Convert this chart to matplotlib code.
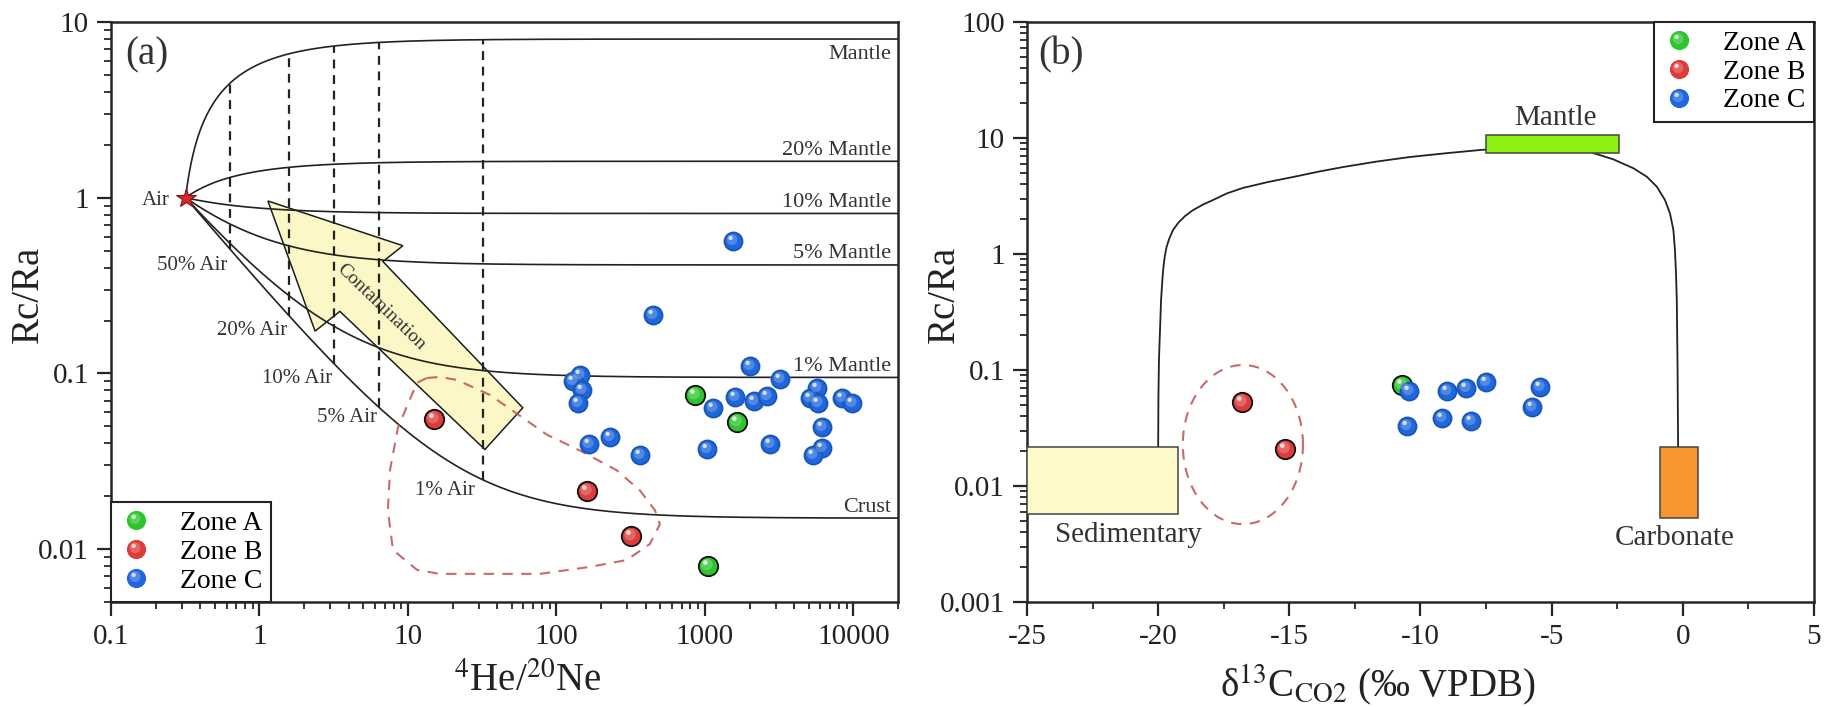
import numpy as np
import matplotlib
matplotlib.use('Agg')
import matplotlib.pyplot as plt
from matplotlib.lines import Line2D
from matplotlib.markers import MarkerStyle
from matplotlib.patches import Polygon, Rectangle
from matplotlib.transforms import Affine2D
from matplotlib.legend_handler import HandlerTuple
from matplotlib.ticker import FixedLocator, FixedFormatter, NullFormatter, LogLocator, MultipleLocator

plt.rcParams['font.family'] = ['Liberation Serif', 'DejaVu Serif']
plt.rcParams['mathtext.fontset'] = 'stix'

# ---------------- data: panel (a) 4He/20Ne vs Rc/Ra ----------------
zone_a_he_ne = [857, 1642, 1048]
zone_a_rc_ra = [0.0755, 0.0531, 0.0080]
zone_b_he_ne = [15.0, 160, 318]
zone_b_rc_ra = [0.0552, 0.0213, 0.0119]
zone_c_he_ne = [144, 129, 148, 140, 166, 229, 365, 1030, 1132, 2010, 1592, 2138,
                2616, 3200, 2740, 5680, 5100, 5770, 6140, 6140, 5340, 8370, 9770,
                1545, 447]
zone_c_rc_ra = [0.098, 0.0906, 0.0806, 0.068, 0.0394, 0.0437, 0.0345, 0.0369, 0.0637,
                0.110, 0.0735, 0.0698, 0.0745, 0.093, 0.0394, 0.0827, 0.0726, 0.068,
                0.0497, 0.0378, 0.0345, 0.0726, 0.068, 0.569, 0.214]

# mixing model end members
air_he_ne = 0.318
mantle_fractions = [1.0, 0.2, 0.1, 0.05, 0.01, 0.0]
mantle_labels = ['Mantle', '20% Mantle', '10% Mantle', '5% Mantle', '1% Mantle', 'Crust']
r_mantle = 8.0
r_crust = 0.015
air_fractions = [0.5, 0.2, 0.1, 0.05, 0.01]
air_labels = ['50% Air', '20% Air', '10% Air', '5% Air', '1% Air']
air_label_x = [0.35, 0.89, 1.79, 3.88, 17.7]
air_label_y = [0.41, 0.176, 0.094, 0.056, 0.0216]

# contamination arrow outline and zone B outline
arrow_x = [1.14, 9.25, 6.79, 59.4, 33.0, 3.48, 2.37]
arrow_y = [0.958, 0.533, 0.433, 0.0637, 0.0369, 0.2255, 0.174]
outline_x = [13.4, 11.5, 8.56, 7.57, 7.33, 7.93, 11.5, 16.4, 77.4, 168, 298, 426, 498,
             461, 365, 255, 144, 86.3, 56.8, 35.6, 21.4, 16.4, 13.4]
outline_y = [0.0942, 0.0883, 0.0491, 0.0281, 0.01664, 0.00989, 0.00762, 0.00723,
             0.00723, 0.00792, 0.00867, 0.01069, 0.01387, 0.01664, 0.0216, 0.0281,
             0.0364, 0.0448, 0.0574, 0.0755, 0.0918, 0.0954, 0.0942]

a_xticks = [0.1, 1, 10, 100, 1000, 10000]
a_xticklabels = ['0.1', '1', '10', '100', '1000', '10000']
a_yticks = [0.01, 0.1, 1, 10]
a_yticklabels = ['0.01', '0.1', '1', '10']

# ---------------- data: panel (b) d13C vs Rc/Ra ----------------
b_zone_a_d13c = [-10.70]
b_zone_a_rc_ra = [0.0743]
b_zone_b_d13c = [-16.80, -15.16]
b_zone_b_rc_ra = [0.053, 0.0208]
b_zone_c_d13c = [-10.44, -10.51, -8.99, -8.26, -7.50, -9.18, -8.07, -5.44, -5.75]
b_zone_c_rc_ra = [0.066, 0.0329, 0.066, 0.070, 0.0788, 0.0386, 0.0363, 0.0713, 0.048]

sed_curve_x = [-20.0, -19.99, -19.97, -19.93, -19.89, -19.84, -19.80, -19.75, -19.68,
               -19.58, -19.44, -19.24, -18.98, -18.67, -18.30, -17.91, -17.38, -16.77,
               -15.80, -14.86, -13.90, -12.95, -11.70, -10.40, -9.00, -7.73, -7.50]
sed_curve_y = [0.0217, 0.06, 0.122, 0.22, 0.40, 0.60, 0.77, 0.95, 1.15, 1.35, 1.60,
               1.85, 2.12, 2.39, 2.66, 2.92, 3.33, 3.71, 4.18, 4.61, 5.12, 5.62, 6.25,
               6.86, 7.40, 7.88, 7.95]
carb_curve_x = [-3.42, -2.65, -1.88, -1.37, -0.99, -0.68, -0.49, -0.36, -0.30, -0.26,
                -0.23, -0.20, -0.18]
carb_curve_y = [7.43, 6.55, 5.48, 4.63, 3.80, 2.92, 2.24, 1.61, 1.08, 0.68, 0.40, 0.10,
                0.0217]

# source boxes: (x0, x1, y0, y1)
mantle_box = [-7.5, -2.43, 7.43, 10.6]
sed_box = [-25.0, -19.24, 0.00574, 0.0217]
carb_box = [-0.87, 0.58, 0.0053, 0.0217]

b_xticks = [-25, -20, -15, -10, -5, 0, 5]
b_xticklabels = ['-25', '-20', '-15', '-10', '-5', '0', '5']
b_yticks = [0.001, 0.01, 0.1, 1, 10, 100]
b_yticklabels = ['0.001', '0.01', '0.1', '1', '10', '100']

zone_names = ['Zone A', 'Zone B', 'Zone C']
zone_colors = ['#2ec42e', '#de3b3b', '#1f67dc']

hl_big = MarkerStyle('o', transform=Affine2D().scale(0.6).translate(-0.08, 0.1))
hl_small = MarkerStyle('o', transform=Affine2D().scale(0.24).translate(-0.16, 0.2))


def spheres(ax, x, y, color, edge, size):
    ax.plot(x, y, 'o', ms=size, mfc=color, mec=edge, mew=1.3, ls='none', zorder=5)
    ax.plot(x, y, ls='none', marker=hl_big, ms=size, mfc='white', mew=0, alpha=0.22, zorder=6)
    ax.plot(x, y, ls='none', marker=hl_small, ms=size, mfc='white', mew=0, alpha=0.75, zorder=7)


def legend_handles(size):
    out = []
    for c in zone_colors:
        base = Line2D([], [], ls='none', marker='o', ms=size, mfc=c, mec=c, mew=0.8)
        h1 = Line2D([], [], ls='none', marker=hl_big, ms=size, mfc='white', mew=0, alpha=0.22)
        h2 = Line2D([], [], ls='none', marker=hl_small, ms=size, mfc='white', mew=0, alpha=0.75)
        out.append((base, h1, h2))
    return out


def style_axes(ax):
    for s in ax.spines.values():
        s.set_linewidth(1.8)
        s.set_color('#262626')
    ax.tick_params(which='major', direction='out', length=10, width=1.6, labelsize=21, pad=6,
                   top=False, right=False, labelcolor='#222222', color='#262626')
    ax.tick_params(which='minor', direction='out', length=5, width=1.3, top=False, right=False,
                   color='#262626')


fig = plt.figure(figsize=(18.25, 7.07), dpi=100)
ax1 = fig.add_axes([0.06082, 0.14851, 0.43123, 0.82037])
ax2 = fig.add_axes([0.56274, 0.14851, 0.43123, 0.82037])

# ---------------- panel (a) ----------------
ax1.set_xscale('log')
ax1.set_yscale('log')
ax1.set_xlim(0.1, 20000)
ax1.set_ylim(0.005, 10)

xs = np.logspace(np.log10(air_he_ne), np.log10(20000), 400)
for f, lab in zip(mantle_fractions, mantle_labels):
    r_end = f * r_mantle + (1 - f) * r_crust
    ax1.plot(xs, r_end + (1 - r_end) * air_he_ne / xs, color='#222222', lw=1.2, zorder=3)
    if lab == 'Mantle':
        ax1.text(18000, r_end * 0.93, lab, ha='right', va='top', fontsize=16, color='#333333')
    else:
        ax1.text(18000, r_end * 1.02, lab, ha='right', va='bottom', fontsize=16, color='#333333')

for fa in air_fractions:
    xv = air_he_ne / fa
    lo = r_crust + (1 - r_crust) * air_he_ne / xv
    hi = r_mantle + (1 - r_mantle) * air_he_ne / xv
    ax1.plot([xv, xv], [lo, hi], color='#222222', lw=1.6, ls=(0, (4, 3)), zorder=3)

for lab, lx, ly in zip(air_labels, air_label_x, air_label_y):
    ax1.text(lx, ly, lab, ha='center', va='center', fontsize=15, color='#333333')
ax1.text(0.2, 0.96, 'Air', ha='center', va='center', fontsize=15, color='#333333')
ax1.plot([air_he_ne], [1], marker='*', ms=15, mfc='#d42a2a', mec='#8b1010', mew=0.8, zorder=8)

ax1.add_patch(Polygon(np.column_stack([arrow_x, arrow_y]), closed=True, facecolor='#fbf7c3',
                      edgecolor='#111111', lw=1.1, alpha=0.95, zorder=2))
ax1.text(6.58, 0.240, 'Contamination', rotation=-44, rotation_mode='anchor', ha='center',
         va='center', fontsize=14, color='#333333', zorder=4)
ax1.plot(outline_x, outline_y, color='#c0504f', lw=1.5, ls=(0, (5, 4)), alpha=0.85, zorder=4)

spheres(ax1, zone_c_he_ne, zone_c_rc_ra, zone_colors[2], '#1a56b8', 13)
spheres(ax1, zone_a_he_ne, zone_a_rc_ra, zone_colors[0], '#111111', 14)
spheres(ax1, zone_b_he_ne, zone_b_rc_ra, zone_colors[1], '#111111', 14)

ax1.xaxis.set_major_locator(FixedLocator(a_xticks))
ax1.xaxis.set_major_formatter(FixedFormatter(a_xticklabels))
ax1.xaxis.set_minor_locator(LogLocator(base=10, subs=np.arange(2, 10)))
ax1.xaxis.set_minor_formatter(NullFormatter())
ax1.yaxis.set_major_locator(FixedLocator(a_yticks))
ax1.yaxis.set_major_formatter(FixedFormatter(a_yticklabels))
ax1.yaxis.set_minor_locator(LogLocator(base=10, subs=np.arange(2, 10)))
ax1.yaxis.set_minor_formatter(NullFormatter())
style_axes(ax1)
ax1.set_xlabel(r'$^{4}$He/$^{20}$Ne', fontsize=28, color='#222222')
ax1.set_ylabel('Rc/Ra', fontsize=28, color='#222222')
ax1.xaxis.set_label_coords(0.53, -0.105)
ax1.yaxis.set_label_coords(-0.082, 0.53)
ax1.text(0.018, 0.943, '(a)', transform=ax1.transAxes, ha='left', va='center', fontsize=28,
         color='#333333')

leg1 = ax1.legend(legend_handles(13), zone_names, loc='lower left', fontsize=20,
                  handler_map={tuple: HandlerTuple(ndivide=1)}, frameon=True, fancybox=False,
                  edgecolor='#222222', framealpha=1, borderaxespad=0, handlelength=1.2,
                  handletextpad=1.0, labelspacing=0.12, borderpad=0.3)
leg1.get_frame().set_linewidth(1.5)

# ---------------- panel (b) ----------------
ax2.set_yscale('log')
ax2.set_xlim(-25, 5)
ax2.set_ylim(0.001, 100)

ax2.plot(sed_curve_x, sed_curve_y, color='#222222', lw=1.3, zorder=3)
ax2.plot(carb_curve_x, carb_curve_y, color='#222222', lw=1.3, zorder=3)
for box, col in [(mantle_box, '#8cf014'), (sed_box, '#fdf9c9'), (carb_box, '#f7962e')]:
    ax2.add_patch(Rectangle((box[0], box[2]), box[1] - box[0], box[3] - box[2], facecolor=col,
                            edgecolor='#444444', lw=1.1, zorder=4))
ax2.text(-4.87, 14.9, 'Mantle', ha='center', va='center', fontsize=21, color='#333333')
ax2.text(-21.15, 0.00378, 'Sedimentary', ha='center', va='center', fontsize=21, color='#333333')
ax2.text(-0.30, 0.00356, 'Carbonate', ha='center', va='center', fontsize=21, color='#333333')

t = np.linspace(0, 2 * np.pi, 200)
ax2.plot(-16.77 + 2.29 * np.cos(t), 10 ** (-1.643 + 0.686 * np.sin(t)), color='#c0504f',
         lw=1.5, ls=(0, (5, 4)), alpha=0.85, zorder=4)

spheres(ax2, b_zone_a_d13c, b_zone_a_rc_ra, zone_colors[0], '#111111', 14)
spheres(ax2, b_zone_c_d13c, b_zone_c_rc_ra, zone_colors[2], '#1a56b8', 13)
spheres(ax2, b_zone_b_d13c, b_zone_b_rc_ra, zone_colors[1], '#111111', 14)

ax2.xaxis.set_major_locator(FixedLocator(b_xticks))
ax2.xaxis.set_major_formatter(FixedFormatter(b_xticklabels))
ax2.xaxis.set_minor_locator(MultipleLocator(2.5))
ax2.yaxis.set_major_locator(FixedLocator(b_yticks))
ax2.yaxis.set_major_formatter(FixedFormatter(b_yticklabels))
ax2.yaxis.set_minor_locator(LogLocator(base=10, subs=np.arange(2, 10)))
ax2.yaxis.set_minor_formatter(NullFormatter())
style_axes(ax2)
ax2.set_xlabel(r'δ$^{13}$C$_{\mathrm{CO2}}$ (‰ VPDB)', fontsize=28, color='#222222')
ax2.set_ylabel('Rc/Ra', fontsize=28, color='#222222')
ax2.xaxis.set_label_coords(0.446, -0.105)
ax2.yaxis.set_label_coords(-0.081, 0.53)
ax2.text(0.014, 0.943, '(b)', transform=ax2.transAxes, ha='left', va='center', fontsize=28,
         color='#333333')

leg2 = ax2.legend(legend_handles(13), zone_names, loc='upper right', fontsize=20,
                  handler_map={tuple: HandlerTuple(ndivide=1)}, frameon=True, fancybox=False,
                  edgecolor='#222222', framealpha=1, borderaxespad=0, handlelength=1.2,
                  handletextpad=1.0, labelspacing=0.12, borderpad=0.3)
leg2.get_frame().set_linewidth(1.5)

fig.savefig('out.png', dpi=100)
